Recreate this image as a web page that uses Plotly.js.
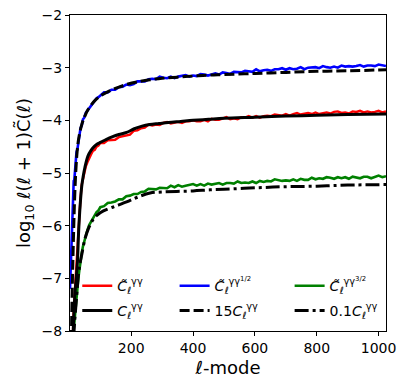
<!DOCTYPE html>
<html>
<head>
<meta charset="utf-8">
<script src="https://cdn.plot.ly/plotly-3.0.1.min.js"></script>
<style>
  html, body { margin: 0; padding: 0; background: #fff; }
  #chart { width: 407px; height: 390px; }
</style>
</head>
<body>
<div id="chart"></div>
<script>
// multipoles shared by the three noisy estimates
const ellNoisy = [2, 4, 6, 8, 10, 12, 14, 16, 18, 20, 23, 26, 29, 32, 36, 40, 44, 48, 53, 58, 64, 70, 76, 82, 88, 94,
  100, 112, 124, 136, 148, 160, 172, 184, 196, 208, 220, 232, 244, 256, 268, 280, 292, 304, 316, 328, 340, 352, 364, 376,
  388, 400, 412, 424, 436, 448, 460, 472, 484, 496, 508, 520, 532, 544, 556, 568, 580, 592, 604, 616, 628, 640, 652, 664,
  676, 688, 700, 712, 724, 736, 748, 760, 772, 784, 796, 808, 820, 832, 844, 856, 868, 880, 892, 904, 916, 928, 940, 952,
  964, 976, 988, 1000, 1012, 1024];

const redVals = [-10.3, -9.7, -9.05, -8.65, -8.25, -7.95, -7.6, -7.4, -7.15, -6.98, -6.72, -6.45, -6.05, -5.8, -5.48, -5.22,
  -5.12, -4.98, -4.88, -4.8, -4.71, -4.65, -4.58, -4.56, -4.5, -4.48,
  -4.43, -4.43, -4.38, -4.37, -4.37, -4.32, -4.3, -4.29, -4.27, -4.2, -4.19, -4.15, -4.14, -4.08, -4.1, -4.08, -4.09, -4.05,
  -4.03, -4.06, -4.04, -4.03, -4.05, -4.02, -4.02, -4.0, -4.02, -4.02, -3.99, -4.02, -3.97, -3.99, -3.99, -3.97, -3.94, -3.98,
  -3.96, -3.98, -3.94, -3.95, -3.92, -3.95, -3.92, -3.95, -3.92, -3.91, -3.92, -3.89, -3.9, -3.91, -3.88, -3.91, -3.88, -3.86,
  -3.89, -3.88, -3.86, -3.88, -3.85, -3.88, -3.86, -3.85, -3.87, -3.84, -3.83, -3.86, -3.85, -3.87, -3.83, -3.84, -3.82, -3.85,
  -3.83, -3.85, -3.84, -3.82, -3.85, -3.83];

const blueVals = [-7.2, -6.8, -6.3, -6.05, -5.6, -5.5, -5.15, -5.13, -4.9, -4.88, -4.6, -4.55, -4.35, -4.31, -4.15, -4.1,
  -3.98, -3.95, -3.86, -3.82, -3.75, -3.71, -3.66, -3.62, -3.58, -3.56,
  -3.53, -3.47, -3.47, -3.42, -3.42, -3.37, -3.36, -3.32, -3.33, -3.31, -3.26, -3.26, -3.26, -3.22, -3.21, -3.22, -3.17, -3.19,
  -3.2, -3.17, -3.2, -3.17, -3.16, -3.14, -3.17, -3.15, -3.16, -3.12, -3.13, -3.15, -3.13, -3.11, -3.13, -3.09, -3.1, -3.12,
  -3.08, -3.08, -3.09, -3.06, -3.07, -3.08, -3.03, -3.07, -3.05, -3.04, -3.06, -3.03, -3.03, -3.01, -3.04, -3.01, -3.03, -3.02,
  -2.99, -3.03, -3.0, -3.0, -2.99, -3.01, -2.97, -2.99, -3.0, -2.98, -3.0, -2.96, -2.98, -2.97, -2.98, -2.97, -2.95, -2.98,
  -2.96, -2.96, -2.97, -2.94, -2.96, -2.97];

const greenVals = [-9.8, -9.3, -8.9, -8.6, -8.35, -8.1, -7.95, -7.85, -7.72, -7.62, -7.42, -7.2, -7.0, -6.86, -6.66, -6.52,
  -6.39, -6.31, -6.16, -6.09, -5.99, -5.93, -5.85, -5.8, -5.74, -5.71,
  -5.65, -5.63, -5.57, -5.56, -5.54, -5.5, -5.5, -5.44, -5.43, -5.4, -5.4, -5.36, -5.35, -5.3, -5.3, -5.31, -5.28, -5.28,
  -5.29, -5.24, -5.27, -5.23, -5.26, -5.24, -5.23, -5.21, -5.24, -5.21, -5.24, -5.2, -5.22, -5.21, -5.19, -5.22, -5.19, -5.19,
  -5.2, -5.16, -5.19, -5.18, -5.19, -5.16, -5.19, -5.15, -5.17, -5.15, -5.16, -5.12, -5.13, -5.15, -5.14, -5.15, -5.12, -5.15,
  -5.11, -5.13, -5.13, -5.09, -5.12, -5.1, -5.11, -5.08, -5.09, -5.11, -5.08, -5.1, -5.08, -5.11, -5.07, -5.09, -5.1, -5.07,
  -5.07, -5.1, -5.07, -5.05, -5.08, -5.06];

// theory curve C_l and its rescaled copies
const ellC = [2, 6, 10, 14, 18, 22, 26, 30, 35, 40, 45, 50, 60, 70, 80, 90, 100, 120, 140, 160, 185, 210, 235, 260, 290,
  320, 360, 400, 450, 500, 600, 700, 800, 900, 1024];
const cVals = [-10.5, -9.2, -8.4, -7.75, -7.3, -7.0, -6.7, -6.1, -5.6, -5.25, -5.05, -4.9, -4.68, -4.57, -4.5, -4.45, -4.42,
  -4.36, -4.31, -4.27, -4.23, -4.16, -4.11, -4.08, -4.06, -4.04, -4.02, -4.0, -3.98, -3.96, -3.94, -3.92, -3.905, -3.89, -3.88];

const ellD = [2, 6, 8, 10, 12, 14, 16, 20, 25, 30, 40, 50, 60, 80, 100, 130, 160, 190, 220, 260, 300, 350, 400, 450, 500,
  600, 700, 800, 900, 1024];
const dashVals = [-9.5, -8.3, -7.6, -7.0, -6.5, -6.05, -5.65, -5.05, -4.6, -4.35, -4.08, -3.92, -3.8, -3.64, -3.54, -3.44,
  -3.37, -3.31, -3.27, -3.23, -3.2, -3.18, -3.16, -3.14, -3.13, -3.11, -3.09, -3.07, -3.06, -3.04];

const ellDD = [2, 6, 10, 14, 18, 22, 26, 30, 35, 40, 50, 60, 77, 90, 110, 140, 185, 220, 261, 300, 347, 400, 455, 500, 606,
  700, 800, 900, 1024];
const dashDotVals = [-10.5, -9.3, -8.6, -8.1, -7.75, -7.45, -7.15, -6.9, -6.7, -6.55, -6.26, -6.08, -5.88, -5.8, -5.72,
  -5.65, -5.55, -5.46, -5.38, -5.36, -5.35, -5.34, -5.32, -5.31, -5.28, -5.26, -5.25, -5.23, -5.22];

const legendNames = [
  "<i>C̃</i><sub>ℓ</sub><sup>γγ</sup>",
  "<i>C̃</i><sub>ℓ</sub><sup>γγ<sup>1/2</sup></sup>",
  "<i>C̃</i><sub>ℓ</sub><sup>γγ<sup>3/2</sup></sup>",
  "<i>C</i><sub>ℓ</sub><sup>γγ</sup>",
  "15<i>C</i><sub>ℓ</sub><sup>γγ</sup>",
  "0.1<i>C</i><sub>ℓ</sub><sup>γγ</sup>"
];

const data = [
  { x: ellNoisy, y: redVals, name: legendNames[0], legend: "legend", mode: "lines", line: { color: "#ff0000", width: 2.4 } },
  { x: ellNoisy, y: blueVals, name: legendNames[1], legend: "legend2", mode: "lines", line: { color: "#0000ff", width: 2.6 } },
  { x: ellNoisy, y: greenVals, name: legendNames[2], legend: "legend3", mode: "lines", line: { color: "#008000", width: 2.6 } },
  { x: ellC, y: cVals, name: legendNames[3], legend: "legend4", mode: "lines", line: { color: "#000000", width: 3, shape: "spline" } },
  { x: ellD, y: dashVals, name: legendNames[4], legend: "legend5", mode: "lines", line: { color: "#000000", width: 3, dash: "10px,4px", shape: "spline" } },
  { x: ellDD, y: dashDotVals, name: legendNames[5], legend: "legend6", mode: "lines", line: { color: "#000000", width: 3, dash: "14px,4px,3px,4px", shape: "spline" } }
];

const axisFont = { family: "DejaVu Sans", size: 14, color: "#000" };

function legendAt(x, y) {
  return {
    x: x, y: y, xanchor: "left", yanchor: "middle",
    bgcolor: "rgba(0,0,0,0)", borderwidth: 0,
    font: { family: "DejaVu Sans", size: 14, color: "#000" },
    itemwidth: 30
  };
}

const layout = {
  width: 407,
  height: 390,
  margin: { l: 70, r: 21, t: 15, b: 59 },
  paper_bgcolor: "#fff",
  plot_bgcolor: "#fff",
  font: { family: "DejaVu Sans", color: "#000" },
  showlegend: true,
  legend: legendAt(0.023, 0.142),
  legend2: legendAt(0.331, 0.142),
  legend3: legendAt(0.695, 0.142),
  legend4: legendAt(0.023, 0.064),
  legend5: legendAt(0.331, 0.064),
  legend6: legendAt(0.695, 0.064),
  xaxis: {
    range: [2, 1024],
    tickvals: [200, 400, 600, 800, 1000],
    ticks: "outside", ticklen: 4, tickwidth: 1, tickcolor: "#000",
    showline: true, linecolor: "#000", linewidth: 1, mirror: true,
    showgrid: false, zeroline: false,
    tickfont: axisFont,
    title: { text: "<i>ℓ</i>-mode", font: { family: "DejaVu Sans", size: 18, color: "#000" }, standoff: 6 }
  },
  yaxis: {
    range: [-8, -2],
    tickvals: [-8, -7, -6, -5, -4, -3, -2],
    ticks: "outside", ticklen: 4, tickwidth: 1, tickcolor: "#000",
    showline: true, linecolor: "#000", linewidth: 1, mirror: true,
    showgrid: false, zeroline: false,
    tickfont: axisFont,
    title: { text: "log<sub>10</sub> <i>ℓ</i>(<i>ℓ</i> + 1)C̃(<i>ℓ</i>)", font: { family: "DejaVu Sans", size: 18, color: "#000" }, standoff: 6 }
  }
};

Plotly.newPlot("chart", data, layout, { displayModeBar: false, staticPlot: true });
</script>
</body>
</html>
